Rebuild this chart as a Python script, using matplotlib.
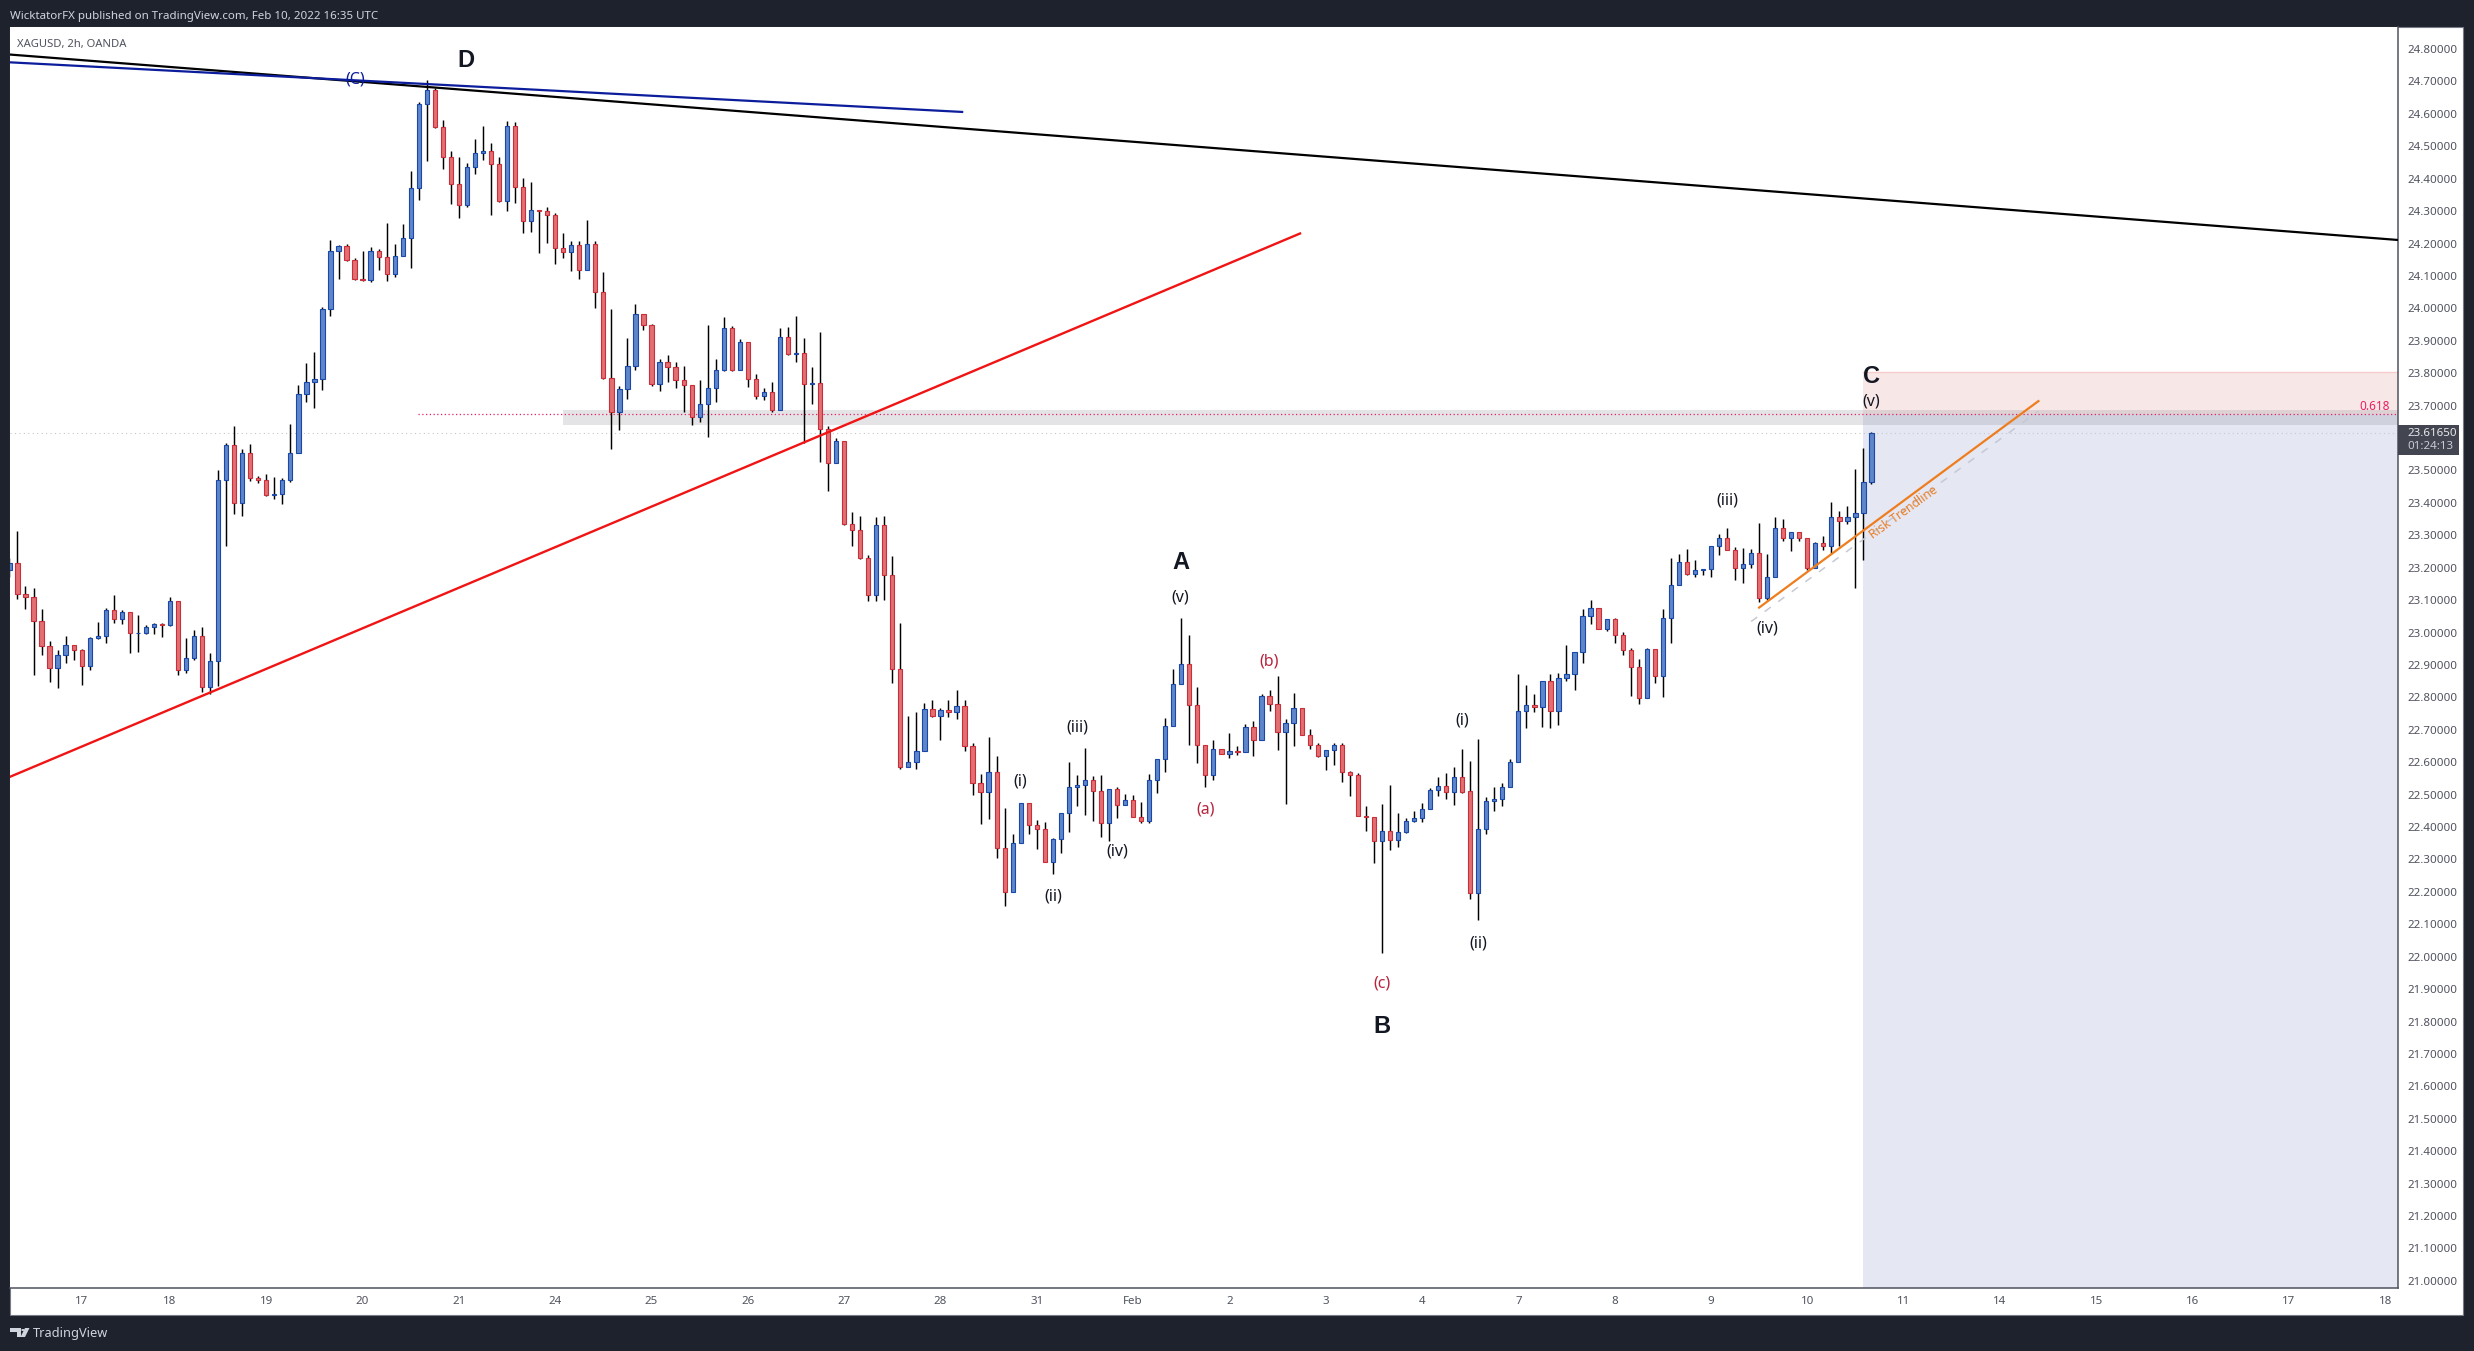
import matplotlib
matplotlib.use('Agg')
import matplotlib.pyplot as plt
from matplotlib.patches import Rectangle, Polygon, Circle

plt.rcParams['font.family'] = ['Noto Sans', 'DejaVu Sans']

# 2h XAGUSD candles
opens = [
    23.194, 23.216, 23.120, 23.111, 23.037, 22.957, 22.891, 22.930, 22.963, 22.945,
    22.898, 22.982, 22.990, 23.071, 23.042, 23.064, 23.000, 23.000, 23.016, 23.027,
    23.022, 23.096, 22.883, 22.923, 22.990, 22.833, 22.913, 23.472, 23.578, 23.400,
    23.553, 23.478, 23.472, 23.425, 23.428, 23.472, 23.555, 23.735, 23.774, 23.783,
    23.997, 24.176, 24.191, 24.148, 24.092, 24.086, 24.176, 24.159, 24.107, 24.163,
    24.218, 24.370, 24.630, 24.674, 24.561, 24.468, 24.385, 24.320, 24.437, 24.480,
    24.487, 24.446, 24.330, 24.564, 24.373, 24.271, 24.305, 24.301, 24.289, 24.187,
    24.174, 24.194, 24.119, 24.199, 24.052, 23.785, 23.681, 23.750, 23.823, 23.984,
    23.950, 23.768, 23.836, 23.818, 23.778, 23.763, 23.664, 23.704, 23.753, 23.811,
    23.938, 23.810, 23.895, 23.781, 23.731, 23.741, 23.688, 23.913, 23.858, 23.861,
    23.766, 23.771, 23.627, 23.522, 23.592, 23.336, 23.315, 23.229, 23.117, 23.333,
    23.176, 22.886, 22.584, 22.602, 22.636, 22.763, 22.744, 22.760, 22.756, 22.773,
    22.649, 22.537, 22.507, 22.569, 22.335, 22.201, 22.350, 22.473, 22.405, 22.395,
    22.291, 22.362, 22.442, 22.525, 22.529, 22.544, 22.510, 22.411, 22.517, 22.467,
    22.482, 22.430, 22.420, 22.544, 22.609, 22.711, 22.840, 22.902, 22.775, 22.652,
    22.559, 22.640, 22.626, 22.634, 22.630, 22.708, 22.667, 22.803, 22.781, 22.692,
    22.720, 22.766, 22.685, 22.652, 22.620, 22.637, 22.652, 22.571, 22.560, 22.435,
    22.430, 22.358, 22.387, 22.361, 22.384, 22.418, 22.427, 22.455, 22.513, 22.526,
    22.509, 22.553, 22.510, 22.195, 22.393, 22.479, 22.486, 22.523, 22.600, 22.757,
    22.776, 22.771, 22.850, 22.757, 22.859, 22.871, 22.939, 23.050, 23.075, 23.010,
    23.041, 22.992, 22.945, 22.893, 22.799, 22.948, 22.865, 23.044, 23.146, 23.217,
    23.182, 23.192, 23.195, 23.268, 23.291, 23.254, 23.198, 23.211, 23.244, 23.106,
    23.170, 23.322, 23.291, 23.311, 23.291, 23.200, 23.275, 23.266, 23.355, 23.345,
    23.355, 23.368, 23.463,
]
highs = [
    23.230, 23.312, 23.143, 23.137, 23.074, 22.974, 22.947, 22.989, 22.963, 22.949,
    22.985, 23.033, 23.075, 23.115, 23.069, 23.064, 23.053, 23.023, 23.030, 23.030,
    23.110, 23.096, 22.983, 23.008, 23.016, 22.936, 23.501, 23.584, 23.637, 23.567,
    23.581, 23.484, 23.489, 23.479, 23.476, 23.643, 23.763, 23.831, 23.865, 24.004,
    24.210, 24.196, 24.200, 24.156, 24.177, 24.189, 24.184, 24.262, 24.200, 24.260,
    24.424, 24.636, 24.704, 24.680, 24.581, 24.486, 24.466, 24.450, 24.521, 24.563,
    24.509, 24.466, 24.579, 24.574, 24.402, 24.389, 24.305, 24.312, 24.293, 24.232,
    24.207, 24.207, 24.272, 24.209, 24.112, 23.999, 23.760, 23.909, 24.015, 23.984,
    23.953, 23.843, 23.855, 23.836, 23.822, 23.763, 23.779, 23.950, 23.843, 23.972,
    23.945, 23.905, 23.895, 23.799, 23.755, 23.772, 23.938, 23.943, 23.975, 23.909,
    23.819, 23.927, 23.636, 23.599, 23.592, 23.372, 23.359, 23.238, 23.355, 23.359,
    23.237, 23.029, 22.742, 22.755, 22.782, 22.793, 22.767, 22.793, 22.822, 22.793,
    22.658, 22.563, 22.678, 22.620, 22.459, 22.379, 22.473, 22.473, 22.422, 22.415,
    22.367, 22.442, 22.602, 22.561, 22.643, 22.558, 22.561, 22.517, 22.525, 22.503,
    22.499, 22.478, 22.565, 22.609, 22.737, 22.887, 23.044, 22.993, 22.833, 22.652,
    22.667, 22.640, 22.689, 22.650, 22.718, 22.727, 22.809, 22.823, 22.866, 22.732,
    22.814, 22.766, 22.703, 22.659, 22.637, 22.659, 22.659, 22.573, 22.567, 22.465,
    22.430, 22.471, 22.530, 22.444, 22.428, 22.450, 22.474, 22.520, 22.554, 22.567,
    22.586, 22.641, 22.604, 22.672, 22.492, 22.524, 22.536, 22.610, 22.872, 22.838,
    22.811, 22.850, 22.872, 22.875, 22.962, 22.941, 23.073, 23.100, 23.077, 23.041,
    23.045, 23.002, 22.951, 22.918, 22.951, 22.948, 23.073, 23.229, 23.241, 23.258,
    23.224, 23.196, 23.268, 23.304, 23.323, 23.264, 23.261, 23.257, 23.338, 23.241,
    23.356, 23.350, 23.311, 23.311, 23.291, 23.279, 23.298, 23.403, 23.375, 23.391,
    23.505, 23.568, 23.619,
]
lows = [
    23.170, 23.102, 23.074, 22.868, 22.932, 22.848, 22.830, 22.907, 22.916, 22.839,
    22.885, 22.980, 22.968, 23.029, 23.027, 22.938, 22.941, 22.997, 22.996, 22.985,
    23.019, 22.870, 22.874, 22.916, 22.818, 22.810, 22.836, 23.268, 23.366, 23.358,
    23.467, 23.462, 23.420, 23.413, 23.395, 23.465, 23.555, 23.712, 23.694, 23.749,
    23.975, 24.092, 24.147, 24.089, 24.085, 24.082, 24.117, 24.085, 24.097, 24.163,
    24.125, 24.333, 24.455, 24.557, 24.430, 24.323, 24.279, 24.313, 24.413, 24.458,
    24.289, 24.329, 24.301, 24.326, 24.234, 24.236, 24.172, 24.202, 24.137, 24.154,
    24.114, 24.092, 24.119, 24.002, 23.781, 23.567, 23.626, 23.721, 23.811, 23.932,
    23.759, 23.746, 23.774, 23.753, 23.679, 23.639, 23.651, 23.604, 23.712, 23.806,
    23.808, 23.810, 23.756, 23.720, 23.716, 23.679, 23.688, 23.855, 23.836, 23.585,
    23.705, 23.527, 23.438, 23.522, 23.333, 23.268, 23.226, 23.096, 23.096, 23.099,
    22.843, 22.580, 22.584, 22.580, 22.634, 22.738, 22.667, 22.738, 22.734, 22.636,
    22.500, 22.408, 22.426, 22.303, 22.155, 22.201, 22.350, 22.378, 22.331, 22.291,
    22.254, 22.321, 22.384, 22.466, 22.437, 22.419, 22.369, 22.357, 22.428, 22.467,
    22.430, 22.413, 22.411, 22.506, 22.570, 22.711, 22.840, 22.653, 22.599, 22.525,
    22.545, 22.624, 22.614, 22.622, 22.630, 22.620, 22.667, 22.758, 22.638, 22.472,
    22.650, 22.685, 22.642, 22.617, 22.577, 22.590, 22.539, 22.497, 22.435, 22.388,
    22.289, 22.010, 22.329, 22.339, 22.381, 22.417, 22.414, 22.455, 22.497, 22.488,
    22.469, 22.506, 22.179, 22.114, 22.380, 22.448, 22.466, 22.523, 22.600, 22.704,
    22.755, 22.709, 22.704, 22.715, 22.849, 22.824, 22.907, 23.026, 23.010, 23.005,
    22.969, 22.932, 22.805, 22.781, 22.799, 22.844, 22.802, 22.969, 23.146, 23.179,
    23.172, 23.179, 23.172, 23.240, 23.254, 23.163, 23.154, 23.198, 23.095, 23.100,
    23.170, 23.283, 23.253, 23.281, 23.194, 23.200, 23.256, 23.244, 23.267, 23.335,
    23.136, 23.224, 23.457,
]
closes = [
    23.216, 23.120, 23.111, 23.037, 22.957, 22.891, 22.930, 22.963, 22.945, 22.898,
    22.982, 22.990, 23.071, 23.042, 23.064, 23.000, 23.000, 23.016, 23.027, 23.022,
    23.096, 22.883, 22.923, 22.990, 22.833, 22.913, 23.472, 23.578, 23.400, 23.553,
    23.478, 23.472, 23.425, 23.428, 23.472, 23.555, 23.735, 23.774, 23.783, 23.997,
    24.176, 24.191, 24.148, 24.092, 24.086, 24.176, 24.159, 24.107, 24.163, 24.218,
    24.370, 24.630, 24.674, 24.561, 24.468, 24.385, 24.320, 24.437, 24.480, 24.487,
    24.446, 24.330, 24.564, 24.373, 24.271, 24.305, 24.301, 24.289, 24.187, 24.174,
    24.194, 24.119, 24.199, 24.052, 23.785, 23.681, 23.750, 23.823, 23.984, 23.950,
    23.768, 23.836, 23.818, 23.778, 23.763, 23.664, 23.704, 23.753, 23.811, 23.938,
    23.810, 23.895, 23.781, 23.731, 23.741, 23.688, 23.913, 23.858, 23.861, 23.766,
    23.771, 23.627, 23.522, 23.592, 23.336, 23.315, 23.229, 23.117, 23.333, 23.176,
    22.886, 22.584, 22.602, 22.636, 22.763, 22.744, 22.760, 22.756, 22.773, 22.649,
    22.537, 22.507, 22.569, 22.335, 22.201, 22.350, 22.473, 22.405, 22.395, 22.291,
    22.362, 22.442, 22.525, 22.529, 22.544, 22.510, 22.411, 22.517, 22.467, 22.482,
    22.430, 22.420, 22.544, 22.609, 22.711, 22.840, 22.902, 22.775, 22.652, 22.559,
    22.640, 22.626, 22.634, 22.630, 22.708, 22.667, 22.803, 22.781, 22.692, 22.720,
    22.766, 22.685, 22.652, 22.620, 22.637, 22.652, 22.571, 22.560, 22.435, 22.430,
    22.358, 22.387, 22.361, 22.384, 22.418, 22.427, 22.455, 22.513, 22.526, 22.509,
    22.553, 22.509, 22.195, 22.393, 22.479, 22.486, 22.523, 22.600, 22.757, 22.776,
    22.771, 22.850, 22.757, 22.859, 22.871, 22.939, 23.050, 23.075, 23.010, 23.041,
    22.992, 22.945, 22.893, 22.799, 22.948, 22.865, 23.044, 23.146, 23.217, 23.182,
    23.192, 23.195, 23.268, 23.291, 23.254, 23.198, 23.211, 23.244, 23.106, 23.170,
    23.322, 23.291, 23.311, 23.291, 23.200, 23.275, 23.266, 23.355, 23.345, 23.355,
    23.368, 23.463, 23.6165,
]

# the 23.6 label sits under the last price tag, so it is left out
price_ticks = [24.8, 24.7, 24.6, 24.5, 24.4, 24.3, 24.2, 24.1, 24.0, 23.9, 23.8, 23.7, 23.5, 23.4,
               23.3, 23.2, 23.1, 23.0, 22.9, 22.8, 22.7, 22.6, 22.5, 22.4, 22.3, 22.2, 22.1, 22.0,
               21.9, 21.8, 21.7, 21.6, 21.5, 21.4, 21.3, 21.2, 21.1, 21.0]
date_tick_bars = [9, 20, 32, 44, 56, 68, 80, 92, 104, 116, 128, 140, 152, 164, 176,
                  188, 200, 212, 224, 236, 248, 260, 272, 284, 296]
date_tick_labels = ['17', '18', '19', '20', '21', '24', '25', '26', '27', '28', '31', 'Feb',
                    '2', '3', '4', '7', '8', '9', '10', '11', '14', '15', '16', '17', '18']

# text, bar, price, colour
wave_letters = [
    ('D', 56.9, 24.766),
    ('A', 145.9, 23.215),
    ('B', 171, 21.786),
    ('C', 232, 23.79),
]
wave_labels = [
    ('(C)', 43.05, 24.707, '#0c1d9c'),
    ('(v)', 145.9, 23.107, '#131722'),
    ('(iii)', 133, 22.707, '#131722'),
    ('(i)', 126, 22.54, '#131722'),
    ('(ii)', 130, 22.185, '#131722'),
    ('(iv)', 138, 22.323, '#131722'),
    ('(a)', 149, 22.453, '#b8243c'),
    ('(b)', 157, 22.91, '#b8243c'),
    ('(c)', 171, 21.916, '#b8243c'),
    ('(i)', 181, 22.73, '#131722'),
    ('(ii)', 183, 22.04, '#131722'),
    ('(iii)', 214, 23.406, '#131722'),
    ('(iv)', 219, 23.011, '#131722'),
    ('(v)', 232, 23.714, '#131722'),
]

BLUE_FILL, BLUE_EDGE = '#5f86c8', '#1a48a8'
RED_FILL, RED_EDGE = '#e26f72', '#c92f3a'
TEXT_GREY = '#50535e'
DARK = '#1e222d'

W, H = 2474, 1351
fig = plt.figure(figsize=(W / 100, H / 100), dpi=100, facecolor=DARK)
fig.add_artist(Rectangle((10 / W, 1 - 1315 / H), 2453 / W, 1288 / H, transform=fig.transFigure,
                         facecolor='white', edgecolor='#787b86', lw=0.8, zorder=-1))

ax = fig.add_axes([10 / W, 1 - 1288 / H, 2388 / W, 1261 / H])
ax.set_facecolor('white')
ax.set_xlim(0.07, 297.6)
ax.set_ylim(20.978, 24.868)

# boxes behind the candles
ax.add_patch(Rectangle((230.95, 20.978), 66.65, 23.673 - 20.978, facecolor='#e5e7f3', edgecolor='none', zorder=1))
ax.add_patch(Rectangle((230.95, 23.673), 66.65, 23.804 - 23.673, facecolor='#f8e7e7', edgecolor='none', zorder=1))
ax.plot([230.95, 297.6], [23.804, 23.804], color='#f6cccc', lw=1, zorder=1.1)
ax.add_patch(Rectangle((69, 23.64), 228.6, 23.686 - 23.64, facecolor='#787b86', alpha=0.2, edgecolor='none', zorder=1.2))

ax.axhline(23.6165, color='#c4c7cf', lw=0.8, ls=(0, (1, 3)), zorder=1.5)
ax.plot([50.9, 297.6], [23.673, 23.673], color='#e91e63', lw=0.9, ls=(0, (1, 2)), zorder=1.5)

# candles
for i, (o, h, l, c) in enumerate(zip(opens, highs, lows, closes)):
    ax.vlines(i, l, h, color='black', lw=1.05, zorder=2)
    up = c >= o
    ax.bar(i, abs(c - o), bottom=min(o, c), width=0.53,
           facecolor=BLUE_FILL if up else RED_FILL,
           edgecolor=BLUE_EDGE if up else RED_EDGE, lw=0.8, zorder=3)

# trend lines
ax.plot([0.07, 297.6], [24.783, 24.211], color='black', lw=1.6, zorder=4)
ax.plot([0.07, 118.7], [24.759, 24.606], color='#0c1d9c', lw=1.6, zorder=4.1)
ax.plot([0.07, 160.8], [22.555, 24.231], color='#f01414', lw=1.7, zorder=4)
ax.plot([217, 252.8], [23.034, 23.683], color='#c5c9d3', lw=1.1, ls=(0, (5, 6)), zorder=4)
ax.plot([218, 252.8], [23.077, 23.714], color='#ee7d1e', lw=1.6, zorder=4)

for text, bar, price in wave_letters:
    ax.text(bar, price, text, color='#131722', fontsize=17, fontweight='bold', family='Liberation Sans',
            ha='center', va='center', zorder=5)
for text, bar, price, colour in wave_labels:
    ax.text(bar, price, text, color=colour, fontsize=11.5, ha='center', va='center', zorder=5)

ax.text(236, 23.369, 'Risk Trendline', color='#e8802a', fontsize=8.8, rotation=36,
        ha='center', va='center', rotation_mode='anchor', zorder=5)
ax.text(296.6, 23.697, '0.618', color='#e91e63', fontsize=8.5, ha='right', va='center', zorder=5)

# axes
ax.yaxis.tick_right()
ax.set_yticks(price_ticks, [f'{p:.5f}' for p in price_ticks])
ax.set_xticks(date_tick_bars, date_tick_labels)
ax.tick_params(axis='y', length=0, pad=7, labelsize=8.3, labelcolor=TEXT_GREY)
ax.tick_params(axis='x', length=0, pad=6, labelsize=8.3, labelcolor=TEXT_GREY)
for side in ['top', 'left']:
    ax.spines[side].set_visible(False)
for side in ['right', 'bottom']:
    ax.spines[side].set_color('#50535e')
    ax.spines[side].set_linewidth(1.1)

# last price tag on the scale
tag = ax.get_yaxis_transform()
ax.add_patch(Rectangle((1.0, 23.5465), 61 / 2388, 23.64 - 23.5465, transform=tag, facecolor='#434651',
                       edgecolor='none', clip_on=False, zorder=10))
ax.text(1 + 9.7 / 2388, 23.6125, '23.61650', transform=tag, color='#e8e9ed', fontsize=8.3, va='center', clip_on=False, zorder=11)
ax.text(1 + 9.7 / 2388, 23.5725, '01:24:13', transform=tag, color='#c9cbd2', fontsize=8.3, va='center', clip_on=False, zorder=11)

ax.text(7 / 2388, 1 - 17 / 1261, 'XAGUSD, 2h, OANDA', transform=ax.transAxes, color=TEXT_GREY, fontsize=8.1, va='center')
fig.text(10 / W, 1 - 16 / H, 'WicktatorFX published on TradingView.com, Feb 10, 2022 16:35 UTC',
         color='#d1d4dc', fontsize=8.3, va='center')

# footer logo
fig.add_artist(Polygon([[10 / W, 1 - 1328 / H], [21 / W, 1 - 1328 / H], [21 / W, 1 - 1337 / H], [16.5 / W, 1 - 1337 / H],
                        [16.5 / W, 1 - 1332 / H], [10 / W, 1 - 1332 / H]], transform=fig.transFigure, facecolor='#d1d4dc', edgecolor='none'))
fig.add_artist(Polygon([[25 / W, 1 - 1328 / H], [29.5 / W, 1 - 1328 / H], [25 / W, 1 - 1337 / H], [20.5 / W, 1 - 1337 / H]],
                       transform=fig.transFigure, facecolor='#d1d4dc', edgecolor='none'))
fig.add_artist(Circle((23 / W, 1 - 1330 / H), 1.8 / W, transform=fig.transFigure, facecolor='#d1d4dc', edgecolor='none'))
fig.text(33 / W, 1 - 1334 / H, 'TradingView', color='#d1d4dc', fontsize=9.2, va='center')

fig.savefig('out.png', dpi=100, facecolor=DARK)
